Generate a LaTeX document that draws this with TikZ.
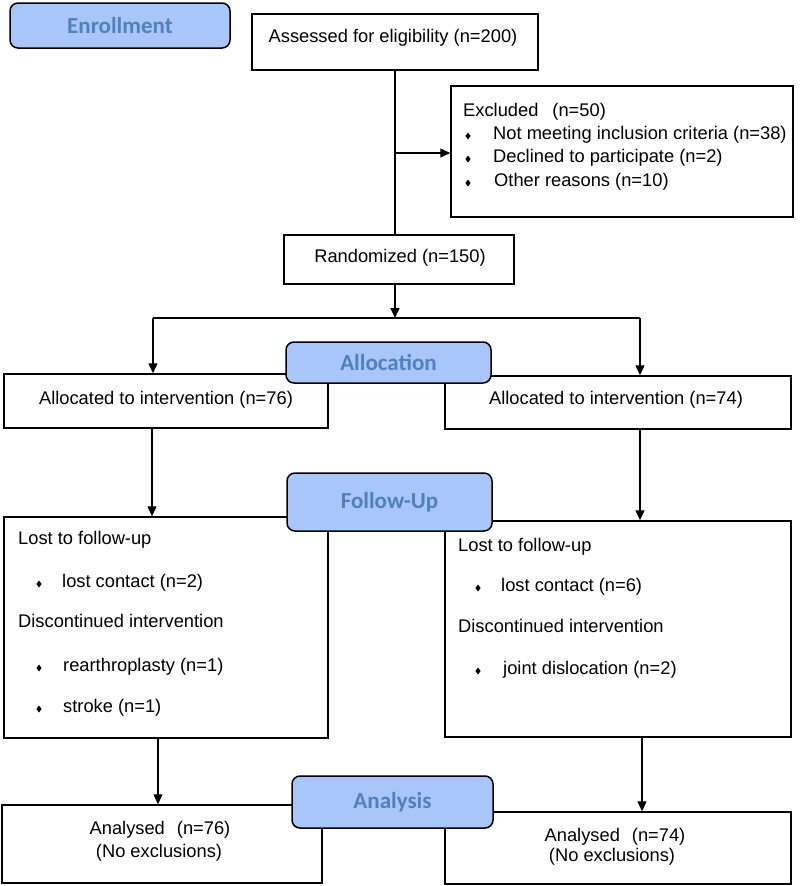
\documentclass[tikz,border=0pt]{standalone}
\usepackage{fontspec}
\setmainfont{Liberation Sans}
\newfontfamily\stagefont{Carlito}
\usetikzlibrary{arrows.meta}
\definecolor{lblfill}{HTML}{A9C6FA}
\definecolor{lbltext}{HTML}{4F81BD}
\begin{document}
\begin{tikzpicture}[x=1pt,y=-1pt,
  box/.style={draw=black, line width=1.5pt, fill=white, inner sep=0pt},
  stage/.style={draw=black, line width=1.5pt, fill=lblfill, rounded corners=8pt, inner sep=0pt,
    font=\stagefont\bfseries\fontsize{23}{26}\selectfont, text=lbltext},
  txt/.style={inner sep=0pt, font=\fontsize{18.3}{22}\selectfont, text height=13pt, text depth=3.6pt},
  ltxt/.style={txt, anchor=west},
  conn/.style={line width=1.4pt},
  arr/.style={conn, -{Triangle[length=10pt,width=9pt]}},
  bul/.style={fill=black},
]
\fill[white] (0,0) rectangle (800,886);
\useasboundingbox (0,0) rectangle (800,886);

% boxes
\node[box, minimum width=286, minimum height=56] (assess) at (395,42) {};
\node[box, minimum width=342, minimum height=131] (excl) at (622,151.5) {};
\node[box, minimum width=230, minimum height=49] (rand) at (399,259.5) {};
\node[box, minimum width=324, minimum height=54] (allocL) at (166,401) {};
\node[box, minimum width=346, minimum height=53] (allocR) at (618,402.5) {};
\node[box, minimum width=324, minimum height=221] (fuL) at (166,627.5) {};
\node[box, minimum width=346, minimum height=216] (fuR) at (618,629) {};
\node[box, minimum width=320, minimum height=78] (anL) at (162,844) {};
\node[box, minimum width=346, minimum height=72] (anR) at (618,848) {};

% stage labels
\node[stage, minimum width=220, minimum height=45] (enroll) at (120,25.5) {Enrollment};
\node[stage, minimum width=205, minimum height=41] (allocation) at (388.5,362.5) {Allocation};
\node[stage, minimum width=205, minimum height=58] (followup) at (389.5,502) {Follow-Up};
\node[stage, minimum width=201, minimum height=52] (analysis) at (392.5,802) {Analysis};

% connectors
\coordinate (main) at (395,153);
\coordinate (split) at (395,318);
\coordinate (sl) at (153,318);
\coordinate (sr) at (640,318);
\coordinate (fl) at (152,0);
\coordinate (fr) at (640,0);
\coordinate (al) at (158,0);
\coordinate (ar) at (642,0);
\draw[conn] (assess.south) -- (assess.south |- rand.north);
\draw[arr] (main) -- (main -| excl.west);
\draw[arr] (split |- rand.south) -- (split);
\draw[conn] (sl) -- (sr);
\draw[arr] (sl) -- (sl |- allocL.north);
\draw[arr] (sr) -- (sr |- allocR.north);
\draw[arr] (fl |- allocL.south) -- (fl |- fuL.north);
\draw[arr] (fr |- allocR.south) -- (fr |- fuR.north);
\draw[arr] (al |- fuL.south) -- (al |- anL.north);
\draw[arr] (ar |- fuR.south) -- (ar |- anR.north);

% texts
\node[txt] (tassess) at (393,38) {Assessed for eligibility (n=200)};
\node[ltxt] (tex0) at (463,112) {Excluded\hspace{14pt}(n=50)};
\node[ltxt] (tex1) at (493,135) {Not meeting inclusion criteria (n=38)};
\node[ltxt] (tex2) at (493,158) {Declined to participate (n=2)};
\node[ltxt] (tex3) at (494,182) {Other reasons (n=10)};
\foreach \yy in {136,159,183} \fill[bul] (468,\yy) +(0,-3.5) -- +(2.6,0) -- +(0,3.5) -- +(-2.6,0) -- cycle;
\node[txt] (trand) at (400,258) {Randomized (n=150)};
\node[txt] (tallocL) at (166,400) {Allocated to intervention (n=76)};
\node[txt] (tallocR) at (616,400) {Allocated to intervention (n=74)};

\node[ltxt] (tfl1) at (18,540) {Lost to follow-up};
\node[ltxt] (tfl2) at (62,583) {lost contact (n=2)};
\node[ltxt] (tfl3) at (18,623) {Discontinued intervention};
\node[ltxt] (tfl4) at (63,667) {rearthroplasty (n=1)};
\node[ltxt] (tfl5) at (63,708) {stroke (n=1)};
\foreach \yy in {584,668,709} \fill[bul] (39,\yy) +(0,-3.5) -- +(2.6,0) -- +(0,3.5) -- +(-2.6,0) -- cycle;

\node[ltxt] (tfr1) at (458,547) {Lost to follow-up};
\node[ltxt] (tfr2) at (501,587) {lost contact (n=6)};
\node[ltxt] (tfr3) at (458,628) {Discontinued intervention};
\node[ltxt] (tfr4) at (503,670) {joint dislocation (n=2)};
\foreach \yy in {588,671} \fill[bul] (478,\yy) +(0,-3.5) -- +(2.6,0) -- +(0,3.5) -- +(-2.6,0) -- cycle;

\node[txt] (tanL1) at (160,830) {Analysed\hspace{12pt}(n=76)};
\node[txt] (tanL2) at (159,853) {(No exclusions)};
\node[txt] (tanR1) at (615,837) {Analysed\hspace{12pt}(n=74)};
\node[txt] (tanR2) at (612,857) {(No exclusions)};
\end{tikzpicture}
\end{document}
